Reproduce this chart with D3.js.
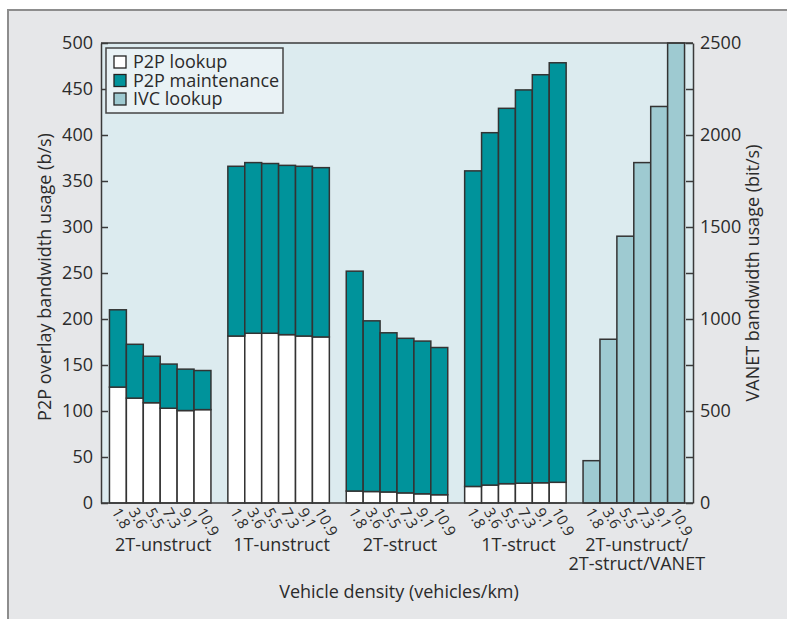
<!DOCTYPE html>
<html>
<head>
<meta charset="utf-8">
<script src="https://cdn.jsdelivr.net/npm/d3@7"></script>
<style>
  html, body { margin: 0; padding: 0; background: #ffffff; }
  svg { display: block; }
  text { font-family: "Open Sans", "Noto Sans", sans-serif; fill: #2b2b2b; }
</style>
</head>
<body>
<svg id="chart" width="787" height="619"></svg>
<script>
// Vehicle densities (vehicles/km), shared by every group
const densities = ["1.8", "3.6", "5.5", "7.3", "9.1", "10.9"];

// Overlay variants shown as groups along the x axis
const groups = ["2T-unstruct", "1T-unstruct", "2T-struct", "1T-struct", "2T-unstruct/|2T-struct/VANET"];

// P2P lookup traffic (b/s), one row per overlay variant
const p2pLookup = [
  [126, 114, 109, 103, 100.5, 101.5],
  [181.5, 184.5, 184.5, 183, 181.5, 180.5],
  [13, 12.5, 12, 11, 10, 9],
  [18, 19.5, 21, 21.5, 22, 22.5]
];

// P2P maintenance traffic (b/s), stacked on top of lookup
const p2pMaintenance = [
  [84, 58.5, 50.5, 48, 45, 42.5],
  [184.5, 185.5, 184.5, 184, 184.5, 184],
  [239, 185.5, 173, 168, 166, 160],
  [343, 383, 408, 427.5, 443.5, 456]
];

// IVC lookup traffic in the VANET (bit/s), right-hand axis
const ivcLookup = [230, 890, 1450, 1850, 2155, 2500];

// Axis ticks
const leftTicks = [0, 50, 100, 150, 200, 250, 300, 350, 400, 450, 500];
const rightTicks = [0, 250, 500, 750, 1000, 1250, 1500, 1750, 2000, 2250, 2500];

const legendItems = ["P2P lookup", "P2P maintenance", "IVC lookup"];

const colors = {
  lookup: "#ffffff",
  maintenance: "#00939b",
  ivc: "#9ecad1",
  plotBg: "#dcebef",
  frameBg: "#e6e7e9",
  stroke: "#333333"
};

const FONT = 18;
const svg = d3.select("#chart");
const plot = { left: 101, right: 693, top: 43, bottom: 503 };

// Outer panel (open to the right and bottom edges)
svg.append("rect")
  .attr("x", 8).attr("y", 10)
  .attr("width", 820).attr("height", 700)
  .attr("fill", colors.frameBg)
  .attr("stroke", "#8d8d8d").attr("stroke-width", 2);

// Plot background
svg.append("rect")
  .attr("x", plot.left).attr("y", plot.top)
  .attr("width", plot.right - plot.left).attr("height", plot.bottom - plot.top)
  .attr("fill", colors.plotBg);

// Scales
const x0 = d3.scaleBand()
  .domain(d3.range(groups.length))
  .range([plot.left, plot.right])
  .paddingInner(1 / 7)
  .paddingOuter(0.5 / 7);

const x1 = d3.scaleBand()
  .domain(densities)
  .range([0, x0.bandwidth()])
  .padding(0);

const yL = d3.scaleLinear().domain([0, 500]).range([plot.bottom, plot.top]);
const yR = d3.scaleLinear().domain([0, 2500]).range([plot.bottom, plot.top]);

// Stacked P2P bars
const stackKeys = ["lookup", "maintenance"];
p2pLookup.forEach((row, gi) => {
  const rows = densities.map((d, i) => ({ density: d, lookup: row[i], maintenance: p2pMaintenance[gi][i] }));
  const series = d3.stack().keys(stackKeys)(rows);
  const g = svg.append("g").attr("transform", `translate(${x0(gi)},0)`);
  series.forEach(s => {
    g.selectAll(null)
      .data(s)
      .join("rect")
      .attr("x", d => x1(d.data.density))
      .attr("width", x1.bandwidth())
      .attr("y", d => yL(d[1]))
      .attr("height", d => yL(d[0]) - yL(d[1]))
      .attr("fill", colors[s.key])
      .attr("stroke", colors.stroke)
      .attr("stroke-width", 1.5);
  });
});

// IVC lookup bars on the right axis
const gIvc = svg.append("g").attr("transform", `translate(${x0(4)},0)`);
gIvc.selectAll(null)
  .data(ivcLookup)
  .join("rect")
  .attr("x", (d, i) => x1(densities[i]))
  .attr("width", x1.bandwidth())
  .attr("y", d => yR(d))
  .attr("height", d => yR(0) - yR(d))
  .attr("fill", colors.ivc)
  .attr("stroke", colors.stroke)
  .attr("stroke-width", 1.5);

// Frame lines of the plot area
svg.append("line")
  .attr("x1", plot.left).attr("x2", plot.right)
  .attr("y1", plot.top).attr("y2", plot.top)
  .attr("stroke", "#3a3a3a").attr("stroke-width", 1.5);
svg.append("line")
  .attr("x1", plot.left).attr("x2", plot.right)
  .attr("y1", plot.bottom).attr("y2", plot.bottom)
  .attr("stroke", "#3a3a3a").attr("stroke-width", 1.5);

// Left axis
const axL = svg.append("g")
  .attr("transform", `translate(${plot.left},0)`)
  .call(d3.axisLeft(yL).tickValues(leftTicks).tickSizeInner(-7).tickSizeOuter(0).tickPadding(8));
axL.select(".domain").attr("stroke", "#3a3a3a").attr("stroke-width", 1.5);
axL.selectAll(".tick line").attr("stroke", "#3a3a3a").attr("stroke-width", 1.5);
axL.selectAll(".tick text").attr("font-size", FONT).attr("fill", "#2b2b2b")
  .style("font-family", '"Open Sans", "Noto Sans", sans-serif');

// Right axis: ticks every 250, labels every 500
const axR = svg.append("g")
  .attr("transform", `translate(${plot.right},0)`)
  .call(d3.axisRight(yR).tickValues(rightTicks)
    .tickFormat(d => d % 500 === 0 ? d : "")
    .tickSizeInner(-7).tickSizeOuter(0).tickPadding(7));
axR.select(".domain").attr("stroke", "#3a3a3a").attr("stroke-width", 1.5);
axR.selectAll(".tick line").attr("stroke", "#3a3a3a").attr("stroke-width", 1.5);
axR.selectAll(".tick text").attr("font-size", FONT).attr("fill", "#2b2b2b")
  .style("font-family", '"Open Sans", "Noto Sans", sans-serif');

// Density tick labels under every bar, slanted
groups.forEach((grp, gi) => {
  svg.append("g")
    .selectAll(null)
    .data(densities)
    .join("text")
    .attr("transform", d => `translate(${x0(gi) + x1(d) + x1.bandwidth() / 2 - 2},${plot.bottom + 6}) rotate(60)`)
    .attr("dy", "0.35em")
    .attr("text-anchor", "start")
    .attr("font-size", 15)
    .text(d => d);
});

// Group names
groups.forEach((grp, gi) => {
  const lines = grp.split("|");
  const t = svg.append("text")
    .attr("x", x0(gi) + x0.bandwidth() / 2)
    .attr("y", 551)
    .attr("text-anchor", "middle")
    .attr("font-size", FONT);
  lines.forEach((ln, li) => {
    t.append("tspan")
      .attr("x", x0(gi) + x0.bandwidth() / 2 + 3)
      .attr("dy", li === 0 ? 0 : 19)
      .text(ln);
  });
});

// Axis titles
svg.append("text")
  .attr("x", (plot.left + plot.right) / 2 + 2)
  .attr("y", 598)
  .attr("text-anchor", "middle")
  .attr("font-size", FONT)
  .text("Vehicle density (vehicles/km)");

svg.append("text")
  .attr("transform", `translate(51,277) rotate(-90)`)
  .attr("text-anchor", "middle")
  .attr("font-size", FONT)
  .text("P2P overlay bandwidth usage (b/s)");

svg.append("text")
  .attr("transform", `translate(759,273) rotate(-90)`)
  .attr("text-anchor", "middle")
  .attr("font-size", FONT)
  .text("VANET bandwidth usage (bit/s)");

// Legend
const legend = svg.append("g").attr("transform", "translate(106,48)");
legend.append("rect")
  .attr("width", 177).attr("height", 65)
  .attr("fill", "#e9f2f5")
  .attr("stroke", "#444444").attr("stroke-width", 1.5);
const swatchFill = [colors.lookup, colors.maintenance, colors.ivc];
legendItems.forEach((name, i) => {
  const cy = 14 + i * 18.5;
  legend.append("rect")
    .attr("x", 8).attr("y", cy - 6)
    .attr("width", 12).attr("height", 12)
    .attr("fill", swatchFill[i])
    .attr("stroke", "#222222").attr("stroke-width", 1.3);
  legend.append("text")
    .attr("x", 27).attr("y", cy)
    .attr("dy", "0.36em")
    .attr("font-size", FONT)
    .text(name);
});
</script>
</body>
</html>
